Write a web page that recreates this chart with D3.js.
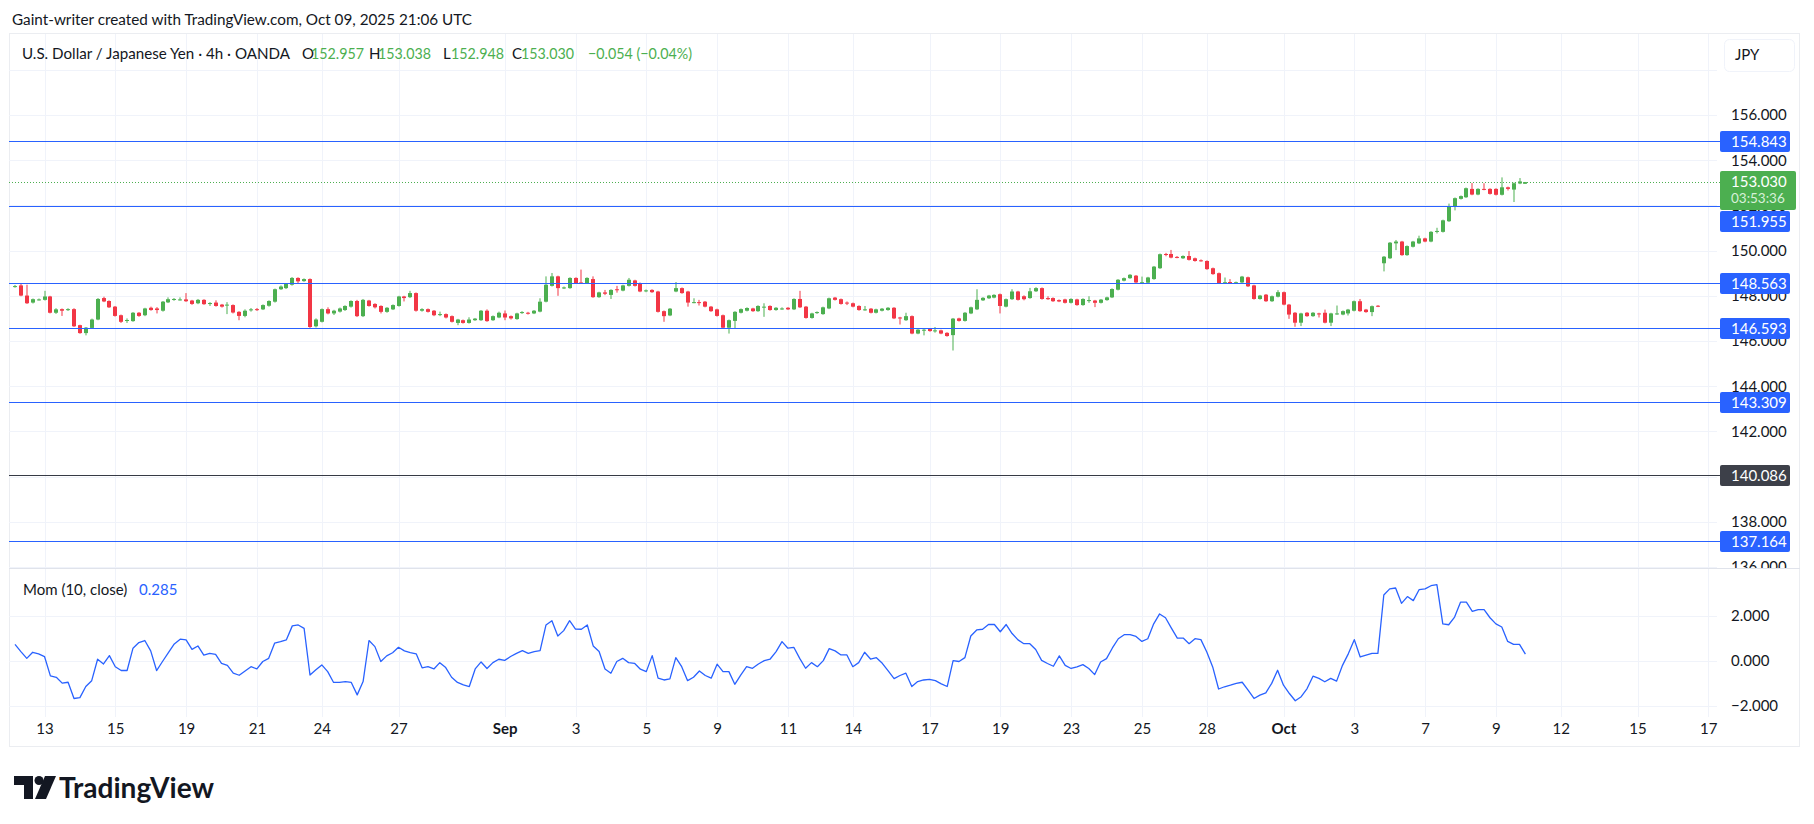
<!DOCTYPE html>
<html>
<head>
<meta charset="utf-8">
<script src="https://cdn.jsdelivr.net/npm/d3@7"></script>
<style>
body { margin: 0; background: #fff; }
svg text { font-family: "Lato", "Noto Sans", sans-serif; fill: #131722; }
</style>
</head>
<body>
<svg id="chart" width="1814" height="824"></svg>
<script>
// USD/JPY 4h candles (bar index 0 = Aug 12, last bar = Oct 09 21:00)
const opens = [
  148.40,148.46,148.01,147.70,147.83,147.82,147.97,147.25,147.41,147.38,
  147.41,146.70,146.35,146.58,146.95,147.90,147.77,147.52,147.14,146.90,
  146.88,147.25,147.14,147.47,147.44,147.34,147.71,147.82,147.82,147.84,
  147.79,147.67,147.82,147.65,147.70,147.61,147.58,147.59,147.29,147.11,
  147.37,147.41,147.40,147.56,147.74,148.29,148.34,148.49,148.79,148.65,
  148.74,146.65,146.85,147.41,147.22,147.30,147.37,147.52,147.77,147.10,
  147.79,147.64,147.55,147.29,147.40,147.55,147.97,147.94,148.12,147.34,
  147.41,147.34,147.16,147.19,147.10,146.80,146.92,146.80,146.92,146.92,
  147.34,146.92,147.04,147.22,147.10,146.97,147.25,147.25,147.22,147.30,
  147.74,148.44,148.86,148.34,148.34,148.79,148.59,148.56,148.74,147.94,
  148.15,148.04,148.29,148.23,148.44,148.68,148.56,148.22,148.26,148.19,
  147.32,147.13,148.19,148.34,148.19,147.70,147.72,147.74,147.52,147.40,
  147.14,146.59,146.89,147.25,147.34,147.44,147.32,147.49,147.55,147.37,
  147.43,147.47,147.40,147.86,147.52,147.02,147.25,147.19,147.44,147.92,
  147.85,147.70,147.67,147.55,147.37,147.43,147.25,147.34,147.37,147.47,
  147.04,146.92,147.10,146.33,146.47,146.53,146.44,146.47,146.36,146.26,
  147.00,146.89,147.22,147.40,147.80,147.89,147.92,148.07,147.52,147.85,
  148.19,147.98,147.90,148.20,148.34,147.90,147.90,147.81,147.84,147.69,
  147.84,147.59,147.79,147.79,147.69,147.81,147.93,148.27,148.67,148.78,
  148.89,148.58,148.58,148.74,149.22,149.85,149.85,149.72,149.66,149.76,
  149.66,149.57,149.54,149.22,149.00,148.58,148.61,148.57,148.59,148.82,
  148.46,147.86,148.05,147.76,147.96,148.16,147.61,147.25,146.81,147.25,
  147.10,147.22,147.25,146.81,147.19,147.17,147.22,147.34,147.76,147.39,
  147.28,147.56,149.44,149.66,150.32,150.40,149.80,150.17,150.32,150.54,
  150.40,150.85,150.83,151.30,151.93,152.29,152.36,152.73,152.48,152.73,
  152.73,152.73,152.47,152.80,152.70,152.97,152.957
];
const highs = [
  148.48,148.56,148.49,147.88,147.88,148.22,148.00,147.45,147.44,147.45,
  147.45,146.72,146.62,146.99,147.90,147.96,147.80,147.55,147.17,147.00,
  147.28,147.28,147.47,147.52,147.50,147.77,147.93,147.90,147.93,148.12,
  147.82,147.86,147.85,147.72,147.80,147.64,147.72,147.62,147.32,147.40,
  147.46,147.46,147.62,147.80,148.32,148.46,148.56,148.83,148.82,148.77,
  148.77,147.00,147.44,147.49,147.38,147.48,147.58,147.80,147.82,147.86,
  147.82,147.67,147.58,147.50,147.62,148.00,148.00,148.22,148.15,147.45,
  147.44,147.37,147.30,147.22,147.13,146.98,146.95,147.05,147.02,147.37,
  147.40,147.13,147.30,147.35,147.13,147.25,147.32,147.29,147.37,147.89,
  148.86,149.01,148.89,148.41,148.82,148.82,149.16,148.82,148.86,148.18,
  148.26,148.29,148.44,148.49,148.79,148.71,148.59,148.28,148.29,148.22,
  147.35,147.46,148.61,148.37,148.22,147.89,147.82,147.77,147.55,147.43,
  147.17,146.95,147.32,147.44,147.49,147.47,147.58,147.67,147.58,147.50,
  147.49,147.50,147.89,148.22,147.55,147.25,147.31,147.52,147.92,147.95,
  147.88,147.75,147.70,147.58,147.55,147.46,147.43,147.46,147.50,147.50,
  147.07,147.25,147.13,146.53,146.53,146.56,146.62,146.50,146.39,147.02,
  147.03,147.28,147.52,148.29,147.94,148.04,148.07,148.10,147.88,148.29,
  148.22,148.02,148.35,148.38,148.37,147.98,147.93,147.84,147.87,147.89,
  147.87,147.89,147.98,147.82,147.86,147.96,148.33,148.74,148.81,148.96,
  148.92,148.85,148.84,149.32,149.87,149.90,150.03,149.76,149.79,149.98,
  149.69,149.61,149.57,149.25,149.03,148.81,148.74,148.63,148.88,148.85,
  148.49,148.04,148.08,148.01,148.25,148.19,147.64,147.28,147.25,147.28,
  147.28,147.25,147.39,147.25,147.57,147.35,147.42,147.79,147.86,147.42,
  147.57,147.59,149.76,150.38,150.47,150.43,150.23,150.43,150.66,150.57,
  150.86,151.01,151.37,152.08,152.35,152.44,152.79,152.99,152.76,152.98,
  152.76,152.76,153.24,152.83,153.01,153.21,153.038
];
const lows = [
  148.36,147.98,147.64,147.66,147.79,147.79,147.22,147.20,147.11,147.33,
  146.62,146.32,146.25,146.55,146.92,147.72,147.46,147.08,146.80,146.80,
  146.85,147.07,147.10,147.34,147.22,147.30,147.68,147.78,147.79,147.73,
  147.60,147.63,147.60,147.55,147.52,147.48,147.19,147.22,146.92,147.05,
  147.30,147.33,147.37,147.52,147.70,148.26,148.30,148.45,148.55,148.62,
  146.58,146.60,146.82,147.18,147.15,147.26,147.33,147.48,147.06,147.06,
  147.52,147.44,147.22,147.25,147.37,147.52,147.75,147.90,147.30,147.30,
  147.26,147.10,147.10,147.00,146.82,146.70,146.77,146.77,146.89,146.89,
  146.85,146.89,147.01,146.92,146.95,146.94,147.20,147.17,147.19,147.27,
  147.71,148.41,148.00,148.30,148.31,148.53,148.53,148.53,147.91,147.91,
  148.03,147.86,148.14,148.20,148.41,148.41,148.16,148.16,148.13,147.26,
  146.85,147.10,148.16,148.09,147.52,147.67,147.57,147.49,147.29,147.08,
  146.56,146.33,146.55,147.22,147.31,147.29,147.29,147.07,147.34,147.34,
  147.38,147.37,147.37,147.46,146.99,146.99,147.20,147.16,147.41,147.79,
  147.61,147.59,147.49,147.34,147.34,147.22,147.22,147.31,147.34,146.97,
  146.73,146.89,146.30,146.30,146.25,146.41,146.37,146.30,146.19,145.58,
  146.86,146.86,147.19,147.37,147.77,147.86,147.89,147.22,147.49,147.82,
  147.79,147.80,147.87,148.17,147.83,147.82,147.73,147.72,147.66,147.66,
  147.56,147.56,147.69,147.50,147.66,147.78,147.90,148.24,148.64,148.75,
  148.56,148.55,148.55,148.71,149.19,149.75,149.66,149.66,149.63,149.56,
  149.51,149.51,149.15,148.93,148.53,148.53,148.55,148.54,148.56,148.39,
  147.83,147.83,147.73,147.73,147.93,147.58,146.98,146.63,146.66,147.07,
  147.07,147.04,146.78,146.66,147.16,147.14,147.13,147.31,147.29,147.25,
  147.10,147.50,149.08,149.63,150.02,149.77,149.77,150.14,150.29,150.37,
  150.37,150.76,150.80,151.27,151.78,152.26,152.33,152.45,152.45,152.67,
  152.48,152.44,152.44,152.66,152.15,152.94,152.948
];
const closes = [
  148.43,148.01,147.67,147.85,147.84,147.97,147.25,147.40,147.34,147.41,
  146.65,146.35,146.59,146.95,147.86,147.75,147.49,147.11,146.85,146.93,
  147.25,147.11,147.44,147.37,147.37,147.74,147.85,147.86,147.84,147.76,
  147.64,147.82,147.63,147.68,147.55,147.52,147.61,147.26,147.11,147.34,
  147.40,147.37,147.59,147.77,148.29,148.41,148.52,148.79,148.64,148.74,
  146.62,146.95,147.41,147.22,147.34,147.44,147.55,147.77,147.10,147.82,
  147.55,147.49,147.29,147.47,147.59,147.97,147.90,148.12,147.34,147.41,
  147.29,147.14,147.19,147.04,146.85,146.95,146.80,146.95,146.99,147.34,
  146.88,147.10,147.25,147.04,147.00,147.22,147.28,147.21,147.34,147.74,
  148.49,148.86,148.34,148.37,148.79,148.56,148.56,148.79,147.94,148.15,
  148.09,148.26,148.25,148.46,148.71,148.44,148.19,148.24,148.16,147.29,
  147.10,147.43,148.34,148.12,147.70,147.72,147.68,147.52,147.32,147.11,
  146.59,146.92,147.29,147.41,147.46,147.32,147.55,147.52,147.37,147.47,
  147.44,147.40,147.86,147.49,147.02,147.22,147.28,147.49,147.89,147.82,
  147.64,147.66,147.52,147.37,147.40,147.25,147.40,147.43,147.47,147.00,
  147.00,147.10,146.33,146.50,146.50,146.44,146.47,146.33,146.22,146.99,
  146.89,147.25,147.49,147.82,147.91,148.01,148.04,147.55,147.85,148.19,
  147.82,147.85,148.20,148.34,147.86,147.85,147.76,147.75,147.69,147.86,
  147.59,147.86,147.81,147.69,147.83,147.93,148.30,148.71,148.78,148.93,
  148.59,148.60,148.81,149.29,149.84,149.81,149.69,149.70,149.76,149.59,
  149.54,149.55,149.18,148.96,148.56,148.60,148.58,148.60,148.85,148.42,
  147.86,148.01,147.76,147.98,148.16,147.61,147.17,146.81,147.22,147.10,
  147.25,147.19,146.81,147.22,147.22,147.32,147.39,147.76,147.32,147.28,
  147.54,147.53,149.73,150.35,150.40,149.80,150.20,150.40,150.54,150.40,
  150.83,150.87,151.34,151.93,152.32,152.41,152.76,152.48,152.73,152.70,
  152.51,152.47,152.80,152.73,152.98,153.06,153.030
];

// Mom (10, close)
const momentum = [
  0.72,0.40,0.10,0.37,0.30,0.18,-0.68,-0.74,-1.00,-0.96,
  -1.68,-1.64,-1.15,-0.89,0.06,-0.15,0.22,-0.27,-0.44,-0.44,
  0.55,0.80,0.89,0.43,-0.44,-0.04,0.35,0.74,0.95,0.92,
  0.50,0.65,0.24,0.32,0.28,-0.12,-0.21,-0.56,-0.65,-0.46,
  -0.27,-0.37,-0.04,0.10,0.77,0.84,0.92,1.54,1.58,1.43,
  -0.64,-0.41,-0.19,-0.49,-0.97,-0.97,-0.93,-0.97,-1.52,-0.93,
  0.89,0.62,-0.04,0.21,0.35,0.59,0.43,0.35,0.30,-0.32,
  -0.27,-0.37,-0.09,-0.31,-0.74,-0.97,-1.08,-1.15,-0.37,-0.06,
  -0.35,-0.09,0.06,0.01,0.18,0.32,0.44,0.32,0.40,0.44,
  1.58,1.77,1.09,1.33,1.77,1.40,1.39,1.58,0.65,0.40,
  -0.37,-0.56,-0.04,0.10,-0.09,-0.12,-0.38,-0.49,0.22,-0.78,
  -0.86,-0.81,0.13,-0.27,-0.89,-0.74,-0.46,-0.66,-0.78,-0.16,
  -0.49,-0.49,-1.05,-0.64,-0.27,-0.34,-0.15,0.00,0.07,0.40,
  0.84,0.55,0.59,0.10,-0.34,-0.09,-0.27,0.00,0.53,0.43,
  0.25,0.25,-0.27,-0.09,0.37,0.07,0.13,-0.12,-0.46,-0.80,
  -0.66,-0.56,-1.15,-0.93,-0.86,-0.83,-0.89,-1.03,-1.15,0.00,
  -0.04,0.13,1.09,1.36,1.39,1.60,1.60,1.28,1.60,1.20,
  0.92,0.75,0.75,0.49,0.01,-0.13,-0.25,0.21,-0.21,-0.35,
  -0.28,-0.18,-0.35,-0.62,-0.06,0.09,0.56,0.97,1.15,1.15,
  1.07,0.85,0.97,1.63,2.07,1.90,1.44,1.00,1.00,0.75,
  0.97,0.93,0.38,-0.28,-1.26,-1.16,-1.09,-1.01,-0.96,-1.31,
  -1.68,-1.53,-1.43,-1.01,-0.43,-1.09,-1.46,-1.78,-1.60,-1.24,
  -0.69,-0.79,-0.94,-0.79,-0.91,-0.21,0.31,0.93,0.16,0.24,
  0.32,0.32,2.91,3.18,3.22,2.54,2.84,2.66,3.15,3.18,
  3.32,3.37,1.63,1.59,1.93,2.59,2.59,2.18,2.26,2.26,
  1.90,1.63,1.49,0.85,0.72,0.72,0.285
];

// date axis (bar index where each day label sits)
const tickIdx = [5, 17, 29, 41, 52, 65, 83, 95, 107, 119, 131, 142, 155, 167, 179, 191, 202, 215, 227, 239, 251, 262, 275, 287];
const tickLabels = ['13', '15', '19', '21', '24', '27', 'Sep', '3', '5', '9', '11', '14', '17', '19', '23', '25', '28', 'Oct', '3', '7', '9', '12', '15', '17'];
const priceTicks = [136, 138, 140, 142, 144, 146, 148, 150, 152, 154, 156];
const priceGrid = [136, 138, 140, 142, 144, 146, 148, 150, 152, 154, 156, 158];
const momTicks = [-2, 0, 2];

// horizontal levels drawn by the author
const levels = [154.843, 151.955, 148.563, 146.593, 143.309, 137.164];
const darkLevels = [140.086];

const lastPrice = 153.030;
const lastMom = 0.285;
const countdown = '03:53:36';

// layout
const svg = d3.select('#chart');
const plotLeft = 9, plotRight = 1717, frameRight = 1800;
const paneTop = 34, paneSplit = 568, momBottom = 717, frameBottom = 747;
const upColor = '#4caf50', downColor = '#f23645', blue = '#2962ff', gridColor = '#f0f3fa';

const x = d3.scaleLinear().domain([0, 256]).range([15, 1525.4]);
const y = d3.scaleLinear().domain([136, 156]).range([567, 115]);
const ym = d3.scaleLinear().domain([-2, 2]).range([705.7, 615.5]);

svg.append('rect').attr('width', 1814).attr('height', 824).attr('fill', '#fff');

// clip paths
const defs = svg.append('defs');
defs.append('clipPath').attr('id', 'clipPrice').append('rect')
    .attr('x', plotLeft).attr('y', paneTop).attr('width', plotRight - plotLeft).attr('height', paneSplit - paneTop);
defs.append('clipPath').attr('id', 'clipMom').append('rect')
    .attr('x', plotLeft).attr('y', paneSplit + 1).attr('width', plotRight - plotLeft).attr('height', momBottom - paneSplit - 1);
defs.append('clipPath').attr('id', 'clipAxis').append('rect')
    .attr('x', plotRight).attr('y', paneTop).attr('width', frameRight - plotRight).attr('height', paneSplit - paneTop);

// title
svg.append('text')
    .attr('x', 12).attr('y', 25)
    .attr('font-size', 15.5)
    .attr('textLength', 460).attr('lengthAdjust', 'spacingAndGlyphs')
    .text('Gaint-writer created with TradingView.com, Oct 09, 2025 21:06 UTC');

// frame
svg.append('rect')
    .attr('x', plotLeft + 0.5).attr('y', paneTop - 0.5)
    .attr('width', frameRight - plotLeft - 1).attr('height', frameBottom - paneTop)
    .attr('fill', 'none').attr('stroke', '#ebedf1');

// grid
const grid = svg.append('g');
grid.selectAll('.vg').data(tickIdx).enter().append('line')
    .attr('x1', d => Math.round(x(d)) + 0.5).attr('x2', d => Math.round(x(d)) + 0.5)
    .attr('y1', paneTop).attr('y2', paneSplit)
    .attr('stroke', gridColor);
grid.selectAll('.vg2').data(tickIdx).enter().append('line')
    .attr('x1', d => Math.round(x(d)) + 0.5).attr('x2', d => Math.round(x(d)) + 0.5)
    .attr('y1', paneSplit + 1).attr('y2', momBottom)
    .attr('stroke', gridColor);
grid.selectAll('.hg').data(priceGrid).enter().append('line')
    .attr('x1', plotLeft).attr('x2', plotRight)
    .attr('y1', d => Math.round(y(d)) + 0.5).attr('y2', d => Math.round(y(d)) + 0.5)
    .attr('stroke', gridColor)
    .attr('clip-path', 'url(#clipPrice)');
grid.selectAll('.mg').data(momTicks).enter().append('line')
    .attr('x1', plotLeft).attr('x2', plotRight)
    .attr('y1', d => Math.round(ym(d)) + 0.5).attr('y2', d => Math.round(ym(d)) + 0.5)
    .attr('stroke', gridColor);

// pane separator
svg.append('line')
    .attr('x1', plotLeft).attr('x2', frameRight)
    .attr('y1', paneSplit + 0.5).attr('y2', paneSplit + 0.5)
    .attr('stroke', '#e0e3eb');

// candles
const bars = d3.range(opens.length);
const candles = svg.append('g').attr('clip-path', 'url(#clipPrice)');
candles.selectAll('.wick').data(bars).enter().append('rect')
    .attr('x', i => Math.round(x(i)) - 0.5)
    .attr('y', i => y(highs[i]))
    .attr('width', 1)
    .attr('height', i => Math.max(1, y(lows[i]) - y(highs[i])))
    .attr('fill', i => closes[i] >= opens[i] ? upColor : downColor);
candles.selectAll('.body').data(bars).enter().append('rect')
    .attr('x', i => Math.round(x(i)) - 2)
    .attr('y', i => y(Math.max(opens[i], closes[i])))
    .attr('width', 4)
    .attr('height', i => Math.max(1, Math.abs(y(opens[i]) - y(closes[i]))))
    .attr('fill', i => closes[i] >= opens[i] ? upColor : downColor);

// level lines
svg.selectAll('.lvl').data(levels).enter().append('line')
    .attr('x1', plotLeft).attr('x2', 1720)
    .attr('y1', d => Math.round(y(d)) + 0.5).attr('y2', d => Math.round(y(d)) + 0.5)
    .attr('stroke', blue).attr('stroke-width', 1.2);
svg.selectAll('.dlvl').data(darkLevels).enter().append('line')
    .attr('x1', plotLeft).attr('x2', 1720)
    .attr('y1', d => Math.round(y(d)) + 0.5).attr('y2', d => Math.round(y(d)) + 0.5)
    .attr('stroke', '#363a45').attr('stroke-width', 1.2);

// last price dotted line
svg.append('line')
    .attr('x1', plotLeft).attr('x2', 1720)
    .attr('y1', Math.round(y(lastPrice)) + 0.5).attr('y2', Math.round(y(lastPrice)) + 0.5)
    .attr('stroke', upColor).attr('stroke-dasharray', '1,2');

// momentum line
const momLine = d3.line().x((d, i) => x(i)).y(d => ym(d));
svg.append('path')
    .datum(momentum)
    .attr('d', momLine)
    .attr('fill', 'none')
    .attr('stroke', '#2962ff')
    .attr('stroke-width', 1.3)
    .attr('stroke-linejoin', 'round')
    .attr('clip-path', 'url(#clipMom)');

// price axis (clipped at the pane bottom, like 136.000 in the original)
const priceAxis = svg.append('g')
    .attr('clip-path', 'url(#clipAxis)')
    .append('g')
    .attr('transform', `translate(${1731},0)`)
    .call(d3.axisRight(y).tickValues(priceTicks).tickSize(0).tickPadding(0).tickFormat(d3.format('.3f')));
priceAxis.select('.domain').remove();
priceAxis.selectAll('text').attr('font-size', 15).attr('font-family', 'Lato, sans-serif').attr('fill', '#131722');

// momentum axis
const momAxis = svg.append('g')
    .attr('transform', `translate(${1731},0)`)
    .call(d3.axisRight(ym).tickValues(momTicks).tickSize(0).tickPadding(0)
        .tickFormat(d => d3.format('.3f')(d).replace('-', '\u2212')));
momAxis.select('.domain').remove();
momAxis.selectAll('text').attr('font-size', 15).attr('font-family', 'Lato, sans-serif').attr('fill', '#131722');

// date axis
const dateAxis = svg.append('g')
    .attr('transform', `translate(0,${momBottom + 6})`)
    .call(d3.axisBottom(x).tickValues(tickIdx).tickSize(0).tickPadding(0).tickFormat((d, i) => tickLabels[i]));
dateAxis.select('.domain').remove();
dateAxis.selectAll('text')
    .attr('font-size', 15).attr('font-family', 'Lato, sans-serif').attr('fill', '#131722')
    .attr('font-weight', (d, i) => isNaN(+tickLabels[i]) ? 'bold' : 'normal');

// last price label
const lastY = Math.round(y(lastPrice));
const lastBox = { top: lastY - 11, bottom: lastY + 28 };
svg.append('rect')
    .attr('x', 1720).attr('y', lastBox.top).attr('width', 76).attr('height', lastBox.bottom - lastBox.top)
    .attr('rx', 2).attr('fill', upColor);
svg.append('text').attr('x', 1731).attr('y', lastY + 5)
    .attr('font-size', 15).style('fill', '#fff').text(d3.format('.3f')(lastPrice));
svg.append('text').attr('x', 1731).attr('y', lastY + 20.5)
    .attr('font-size', 13.5).style('fill', '#d8f0d9').text(countdown);

// level labels (pushed clear of the last price label)
function labelTop(v) {
    let t = Math.round(y(v)) - 10;
    if (t < lastBox.bottom && t + 21 > lastBox.top) t = lastBox.bottom + 1;
    return t;
}
const lvlLabels = svg.selectAll('.lvlLabel').data(levels.concat(darkLevels)).enter().append('g');
lvlLabels.append('rect')
    .attr('x', 1720).attr('y', d => labelTop(d)).attr('width', 70).attr('height', 21)
    .attr('rx', 2)
    .attr('fill', d => darkLevels.includes(d) ? '#3d4049' : blue);
lvlLabels.append('text')
    .attr('x', 1731).attr('y', d => labelTop(d) + 15.5)
    .attr('font-size', 15).style('fill', '#fff')
    .text(d => d3.format('.3f')(d));

// currency button
svg.append('rect')
    .attr('x', 1724.5).attr('y', 39.5).attr('width', 70).attr('height', 32).attr('rx', 5)
    .attr('fill', '#fff').attr('stroke', '#f0f3fa');
svg.append('text').attr('x', 1735).attr('y', 59.5).attr('font-size', 15).text('JPY');

// header legend
const header = svg.append('text').attr('y', 58.5).attr('font-size', 15);
const headerParts = [
    { t: 'U.S. Dollar / Japanese Yen \u00b7 4h \u00b7 OANDA', x: 22, w: 268, c: '#131722' },
    { t: 'O', x: 302, c: '#131722' }, { t: '152.957', x: 311, w: 53, c: upColor },
    { t: 'H', x: 369, c: '#131722' }, { t: '153.038', x: 378, w: 53, c: upColor },
    { t: 'L', x: 443, c: '#131722' }, { t: '152.948', x: 451, w: 53, c: upColor },
    { t: 'C', x: 512, c: '#131722' }, { t: '153.030', x: 521, w: 53, c: upColor },
    { t: '\u22120.054 (\u22120.04%)', x: 588, w: 104, c: upColor }
];
headerParts.forEach(p => {
    const s = header.append('tspan').attr('x', p.x).style('fill', p.c).text(p.t);
    if (p.w) s.attr('textLength', p.w).attr('lengthAdjust', 'spacingAndGlyphs');
});

// momentum legend
const momLegend = svg.append('text').attr('y', 594.5).attr('font-size', 15);
momLegend.append('tspan').attr('x', 23).text('Mom (10, close)');
momLegend.append('tspan').attr('x', 139).style('fill', blue).text(d3.format('.3f')(lastMom));

// TradingView logo
const logo = svg.append('g').attr('fill', '#131722');
logo.append('path').attr('d', 'M14,776 H33 V799 H24 V785 H14 Z');
logo.append('circle').attr('cx', 39).attr('cy', 780.5).attr('r', 4.5);
logo.append('path').attr('d', 'M45,776 H56 L46,799 H35 Z');
svg.append('text')
    .attr('x', 59).attr('y', 798)
    .attr('font-size', 29).attr('font-weight', 'bold')
    .attr('textLength', 155).attr('lengthAdjust', 'spacingAndGlyphs')
    .text('TradingView');
</script>
</body>
</html>
